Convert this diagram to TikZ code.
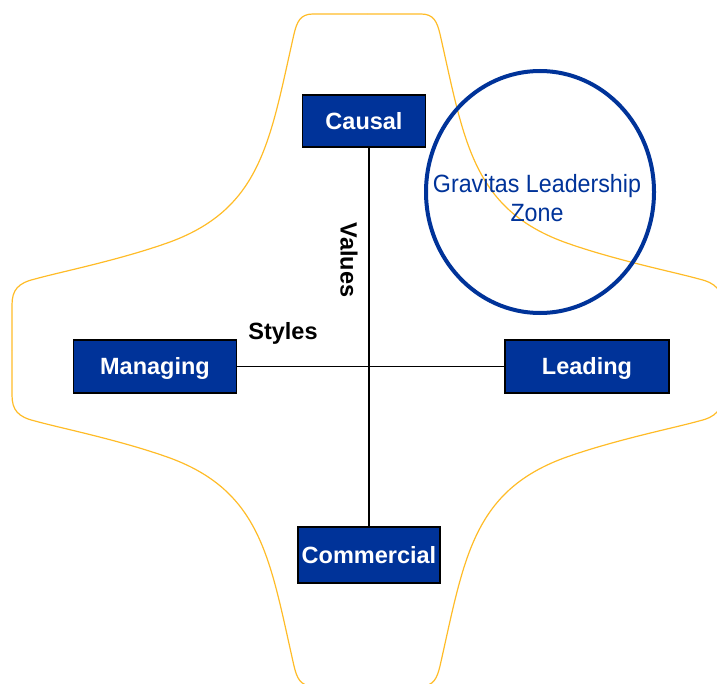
\documentclass[tikz,border=0pt]{standalone}
\usepackage{fontspec}
\setmainfont{Liberation Sans}
\newfontfamily\zonefont[FakeStretch=0.93]{Liberation Sans}
\definecolor{boxblue}{RGB}{0,51,153}
\definecolor{outlineorange}{RGB}{255,188,40}
\tikzset{
  stylebox/.style={draw=black, line width=1.5pt, fill=boxblue, text=white,
    font=\fontsize{23.5}{28}\selectfont\bfseries, inner sep=0pt,
    text height=16.8pt, text depth=0pt},
  axislabel/.style={font=\fontsize{23.5}{28}\selectfont\bfseries, inner sep=0pt}
}

\begin{document}
\begin{tikzpicture}[x=1pt,y=-1pt]
\useasboundingbox (0,0) rectangle (717,684);
\clip (0,0) rectangle (717,684);
% cross shaped outline, one quarter mirrored four times
\foreach \sx/\sy in {1/1,-1/1,1/-1,-1/-1}
{
\begin{scope}[shift={(367,350)}, xscale=\sx, yscale=\sy]
\draw[outlineorange, line width=1.2pt] (0,-336) -- (-54,-336)
  .. controls (-67,-336) and (-70,-328) .. (-73,-316)
  .. controls (-97,-210) and (-105,-142) .. (-197,-108)
  .. controls (-247,-90) and (-307,-78) .. (-332,-71)
  .. controls (-349,-67) and (-355,-60) .. (-355,-45) -- (-355,0);
\end{scope}
}
\node[stylebox, minimum width=123pt, minimum height=52pt] (causal) at (364,121) {Causal};
\node[stylebox, minimum width=163pt, minimum height=53pt] (managing) at (155,366.5) {Managing};
\node[stylebox, minimum width=164pt, minimum height=53pt] (leading) at (587,366.5) {Leading};
\node[stylebox, minimum width=142pt, minimum height=56pt] (commercial) at (369,555) {Commercial};
\draw[line width=1.5pt] (causal.south -| commercial.north) -- (commercial.north);
\draw[line width=1.5pt] (managing.east) -- (leading.west);
\node[axislabel, rotate=-90] (values) at (349,260) {Values};
\node[axislabel] (styles) at (283,333) {Styles};
\draw[boxblue, line width=4pt] (540,192) ellipse [x radius=114, y radius=121];
\node[text=boxblue, font=\zonefont\fontsize{25}{29}\selectfont, align=center, inner sep=0pt] (zone) at (537,198) {Gravitas Leadership\\Zone};
\end{tikzpicture}
\end{document}
